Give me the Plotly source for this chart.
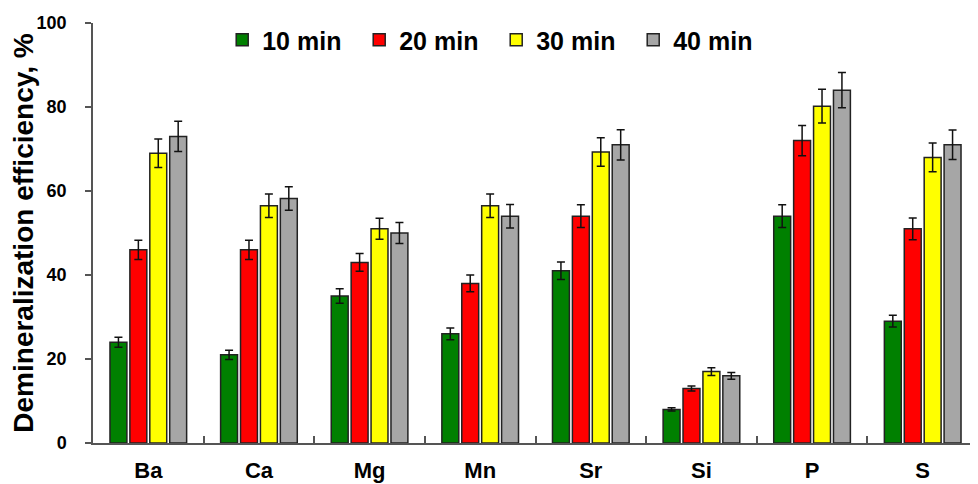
import plotly.graph_objects as go

categories = ["Ba", "Ca", "Mg", "Mn", "Sr", "Si", "P", "S"]
series_names = ["10 min", "20 min", "30 min", "40 min"]
vals_10 = [24, 21, 35, 26, 41, 8, 54, 29]
vals_20 = [46, 46, 43, 38, 54, 13, 72, 51]
vals_30 = [69, 56.5, 51, 56.5, 69.3, 17, 80.2, 68]
vals_40 = [73, 58.2, 50, 54, 71, 16, 84, 71]
err_10 = [1.2, 1.1, 1.7, 1.4, 2.1, 0.4, 2.7, 1.4]
err_20 = [2.3, 2.3, 2.1, 2.0, 2.7, 0.6, 3.6, 2.6]
err_30 = [3.4, 2.8, 2.5, 2.8, 3.4, 0.9, 4.0, 3.4]
err_40 = [3.6, 2.8, 2.5, 2.8, 3.6, 0.8, 4.2, 3.5]
colors = ["#008000", "#FF0000", "#FFFF00", "#A6A6A6"]
y_ticks = [0, 20, 40, 60, 80, 100]

FONT = "Arial, Liberation Sans, sans-serif"

fig = go.Figure()
for name, vals, errs, col in zip(series_names, [vals_10, vals_20, vals_30, vals_40],
                                 [err_10, err_20, err_30, err_40], colors):
    fig.add_trace(go.Bar(
        x=categories, y=vals, name="<b>%s</b>" % name,
        marker=dict(color=col, line=dict(color="#222222", width=1.5)),
        error_y=dict(type="data", array=errs, visible=True, color="#111111",
                     thickness=1.5, width=4),
    ))

fig.update_layout(
    width=978, height=484,
    margin=dict(l=85, r=8, t=15, b=49, autoexpand=False),
    paper_bgcolor="white", plot_bgcolor="white",
    barmode="group", bargap=0.28, bargroupgap=0.15,
    font=dict(family=FONT, color="black"),
    showlegend=True,
    legend=dict(orientation="h", x=0.146, y=0.9595, xanchor="left", yanchor="middle",
                entrywidth=92, entrywidthmode="pixels",
                font=dict(size=25, family=FONT, color="black"),
                bgcolor="rgba(0,0,0,0)", itemwidth=30, tracegroupgap=0),
    xaxis=dict(showline=True, linecolor="#555555", linewidth=1.5,
               ticks="inside", tickson="boundaries", ticklen=7, tickcolor="#555555",
               tickwidth=1.5, automargin=False, ticklabelstandoff=7,
               tickvals=categories, ticktext=["<b>%s</b>" % c for c in categories],
               tickfont=dict(size=22, family=FONT),
               showgrid=False, zeroline=False),
    yaxis=dict(range=[0, 100], tickvals=y_ticks, ticktext=["<b>%d</b>" % t for t in y_ticks],
               showline=True, automargin=False, ticklabelstandoff=15,
               linecolor="#555555", linewidth=1.5, ticks="outside", ticklen=6,
               tickcolor="#555555", tickwidth=1.5,
               tickfont=dict(size=18, family=FONT), showgrid=False, zeroline=False,
               title=dict(text="<b>Demineralization efficiency, %</b>",
                          font=dict(size=28, family=FONT), standoff=2)),
)

fig.write_html("out.html")
